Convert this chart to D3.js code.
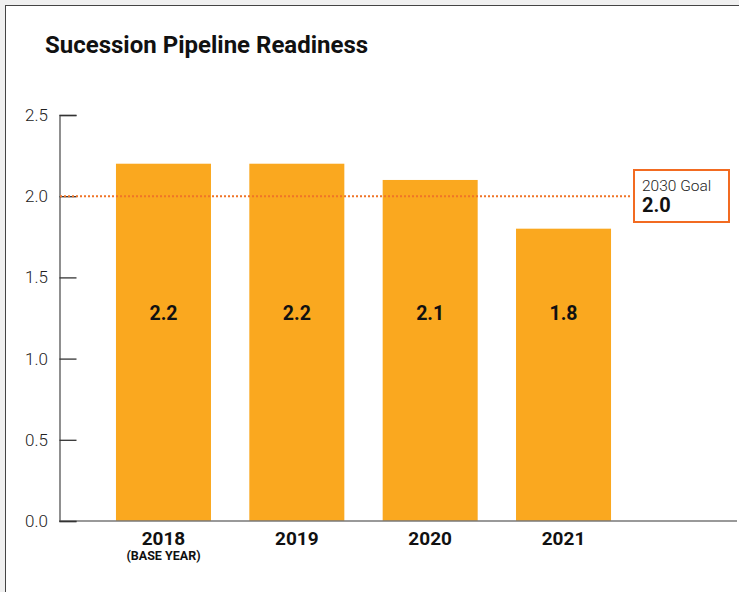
<!DOCTYPE html>
<html>
<head>
<meta charset="utf-8">
<script src="https://cdn.jsdelivr.net/npm/d3@7"></script>
<style>
  body { margin: 0; background: #f0f0f0; font-family: Roboto, "Noto Sans", sans-serif; }
  svg { display: block; }
</style>
</head>
<body>
<svg id="chart" width="739" height="592"></svg>
<script>
// data
var years = ['2018', '2019', '2020', '2021'];
var subLabels = ['(BASE YEAR)', '', '', ''];
var readiness = [2.2, 2.2, 2.1, 1.8];
var yTicks = [0, 0.5, 1.0, 1.5, 2.0, 2.5];
var goalValue = 2.0;
var goalLabel = '2030 Goal';

var width = 739, height = 592;
var svg = d3.select('#chart');

// white panel
svg.append('rect')
    .attr('x', 5.5).attr('y', 5.5)
    .attr('width', width + 10).attr('height', height)
    .attr('fill', 'white')
    .attr('stroke', '#444').attr('stroke-width', 1);

svg.append('text')
    .attr('x', 45).attr('y', 53)
    .attr('font-size', 24).attr('font-weight', 700)
    .attr('fill', '#111')
    .text('Sucession Pipeline Readiness');

var y = d3.scaleLinear().domain([0, 2.5]).range([521, 115]);
var x = d3.scaleBand().domain(years).range([96.8, 630.2]).paddingInner(0.2875).paddingOuter(0.14375);

// bars
svg.selectAll('.bar').data(readiness).enter()
    .append('rect').attr('class', 'bar')
    .attr('x', (d, i) => x(years[i]))
    .attr('y', d => y(d))
    .attr('width', x.bandwidth())
    .attr('height', d => y(0) - y(d))
    .attr('fill', '#FAA81F');

// value labels
svg.selectAll('.val').data(readiness).enter()
    .append('text').attr('class', 'val')
    .attr('x', (d, i) => x(years[i]) + x.bandwidth() / 2)
    .attr('y', y(1.28))
    .attr('dy', '0.35em')
    .attr('text-anchor', 'middle')
    .attr('font-size', 19.5).attr('font-weight', 700)
    .attr('fill', '#111')
    .text(d => d.toFixed(1));

// x axis line
svg.append('line')
    .attr('x1', 59).attr('x2', 737)
    .attr('y1', y(0)).attr('y2', y(0))
    .attr('stroke', '#777').attr('stroke-width', 1.5);

// y axis, ticks point inward
var yAxis = d3.axisRight(y).tickValues(yTicks).tickSize(17).tickFormat('');
var ya = svg.append('g').attr('transform', 'translate(59.5,0)').call(yAxis);
ya.select('.domain').attr('stroke', '#555').attr('stroke-width', 1.3);
ya.selectAll('.tick line').attr('stroke', '#333').attr('stroke-width', 1.3);

svg.selectAll('.ylab').data(yTicks).enter()
    .append('text').attr('class', 'ylab')
    .attr('x', 48).attr('y', d => y(d) + 6)
    .attr('text-anchor', 'end')
    .attr('font-size', 17).attr('font-weight', 300)
    .attr('fill', '#222')
    .text(d => d.toFixed(1));

// x labels
svg.selectAll('.xlab').data(years).enter()
    .append('text').attr('class', 'xlab')
    .attr('x', d => x(d) + x.bandwidth() / 2)
    .attr('y', 545)
    .attr('text-anchor', 'middle')
    .attr('font-size', 19).attr('font-weight', 700)
    .attr('fill', '#111')
    .text(d => d);

svg.selectAll('.sublab').data(subLabels).enter()
    .append('text').attr('class', 'sublab')
    .attr('x', (d, i) => x(years[i]) + x.bandwidth() / 2)
    .attr('y', 560)
    .attr('text-anchor', 'middle')
    .attr('font-size', 12.5).attr('font-weight', 700)
    .attr('fill', '#111')
    .text(d => d);

// goal line
svg.append('line')
    .attr('x1', 60).attr('x2', 632)
    .attr('y1', y(goalValue)).attr('y2', y(goalValue))
    .attr('stroke', '#F07427').attr('stroke-width', 2)
    .attr('stroke-dasharray', '2,2');

// goal box
svg.append('rect')
    .attr('x', 634).attr('y', 170)
    .attr('width', 95).attr('height', 52)
    .attr('fill', 'white')
    .attr('stroke', '#F26B21').attr('stroke-width', 2);

svg.append('text')
    .attr('x', 642).attr('y', 191)
    .attr('font-size', 15.5).attr('font-weight', 300)
    .attr('fill', '#222')
    .text(goalLabel);

svg.append('text')
    .attr('x', 642).attr('y', 212)
    .attr('font-size', 20).attr('font-weight', 700)
    .attr('fill', '#111')
    .text(goalValue.toFixed(1));
</script>
</body>
</html>
